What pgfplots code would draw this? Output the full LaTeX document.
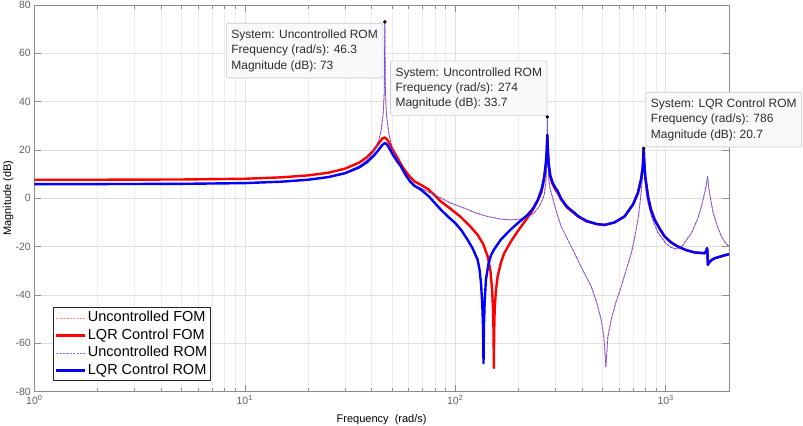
\documentclass[border=0pt]{standalone}
\usepackage{fontspec}
\setmainfont{Liberation Sans}
\usepackage{pgfplots}
\usepackage{pgfplotstable}
\pgfplotsset{compat=1.18}
\definecolor{redsolid}{RGB}{255,0,0}
\definecolor{bluesolid}{RGB}{0,0,255}
\definecolor{reddash}{RGB}{255,110,110}
\definecolor{bluedash}{RGB}{80,80,255}
\definecolor{reddashlight}{RGB}{255,140,140}
\definecolor{bluedashlight}{RGB}{120,120,255}
\definecolor{tipfill}{RGB}{249,249,252}
\definecolor{tipdraw}{RGB}{200,200,206}
\definecolor{tiptext}{RGB}{45,45,45}

\pgfplotstableread{
f db
1 6.0
2 6.05
5 6.1
10 6.4
15 6.9
20 7.8
25 9.0
30 10.7
35 13.4
38 15.7
40 17.9
42 21.0
43.5 24.6
44.5 28.3
45.5 35.3
46 43.8
46.3 73
46.6 43.7
47.2 34.1
48.5 26.2
50 21.6
52 17.7
55 13.7
58 10.2
61 7.6
65 5.0
68.7 4.2
76 2.3
85.5 0.1
95.4 -2.0
110 -4.0
125 -6.0
142.6 -7.5
165 -8.6
185 -8.9
205 -8.6
221 -7.6
237 -6.1
250 -3.5
260 -0.5
265 1.5
269 6
271.5 11
273 18
274 33.7
275 20
276.5 12
279 7
284 3
290 0.5
296 -2.5
305 -6.5
318.6 -11.6
340 -16.5
369 -22.7
400 -29
443 -36.5
470 -43
494 -50.3
508 -57
516 -65
520 -69.7
524 -65
532 -57
551 -50.3
580 -43
615 -36.5
650 -29.5
687 -22.7
715 -15.5
738 -8.9
755 -2
768 4
779 11.8
784 18
786 21
788 18
793 11
805 4
824 -1.9
860 -8
920 -14.3
1000 -18.5
1060 -20.3
1125 -21
1200 -19.7
1325 -14.4
1420 -8.5
1479 -3.3
1530 2
1560 5.5
1582 9.1
1605 4
1640 -1
1683 -6.1
1760 -11.5
1842 -15.8
1920 -18.3
2000 -20
}\uncontrolled

\pgfplotstableread{
f db
1 7.7
2 7.7
5 7.8
10 8.1
15 8.7
20 9.5
25 10.6
30 12.3
35 14.8
38 17.0
41 19.9
43 22.4
45 24.7
46.3 25.2
47.2 24.6
48 23.7
50 20.8
53 17.0
56 13.2
60 9.6
64 7.0
68.7 5.6
75 3.6
85.5 -1.3
95 -4.3
105.6 -7.5
117 -11.3
127.8 -15.1
136 -19
142.6 -24
147 -30
149.5 -37
151.3 -46
152.2 -56
152.6 -70.2
153.1 -56
154 -46
156 -38.5
159 -32.4
165 -26.5
171 -22.7
185 -17.5
198 -13.7
215 -9.3
229 -6.1
245 -1.5
256 2.2
264 7.5
269 13
272 18.5
274 25.5
276 18.5
278 14
283 9
290 6
300 3.5
307 2.3
318 -0.3
340 -3.8
369 -6.3
383 -7.5
420 -9.5
470 -10.7
512 -11
570 -10
638 -7.5
700 -2.5
738 2.2
765 8
779 13.2
783 17
786 20.5
790 16
800 9
824 0.8
850 -4.5
887 -8.9
940 -12.8
989 -15.8
1060 -18.2
1140 -19.9
1250 -21.4
1374 -22.4
1534 -22.7
1560 -21.8
1572 -20.6
1580 -22
1587 -27.5
1600 -26.8
1650 -25.6
1710 -24.8
1850 -23.9
2000 -23.1
}\lqrfom

\pgfplotstableread{
f db
1 5.9
2 5.9
5 6.0
10 6.3
15 6.9
20 7.7
25 8.8
30 10.4
35 12.8
38 14.9
41 17.6
43 19.8
45 22.0
46.3 22.9
47.5 22.2
49 20.2
51 17.5
53 15.3
55 13.4
58 9.8
61 7.0
64 5.2
68.7 3.6
75 0.8
85.5 -4.7
92 -7.4
100 -10.2
107 -13.2
114.6 -17.2
121 -20.7
127.8 -25.4
130.5 -29.5
132.6 -35
134.5 -44
135.6 -53
136.3 -68.2
136.9 -53
138 -43
140 -33.5
144 -27
148 -23.5
153.4 -21
165 -17
184 -12.8
200 -10
221 -6.8
235 -4
247 -0.6
258 4
265 9.1
270 15
272 19
274 26.3
276 19
278 14.5
283 9.5
290 6.5
300 4.2
307 3.0
318 0
340 -3.5
369 -6
383 -7.3
420 -9.3
470 -10.6
512 -11
570 -10
638 -7.5
700 -2.5
738 2.2
765 8
779 13.2
783 17
786 20.7
790 16
800 9
824 0.8
850 -4.5
887 -8.9
940 -12.8
989 -15.8
1060 -18.2
1140 -19.9
1250 -21.4
1374 -22.4
1534 -22.7
1560 -21.8
1572 -20.6
1580 -22
1587 -27.5
1600 -26.8
1650 -25.6
1710 -24.8
1850 -23.9
2000 -23.1
}\lqrrom

\begin{document}
\begin{tikzpicture}
\begin{axis}[
  scale only axis, width=694.7pt, height=386.7pt,
  xmode=log, xmin=1, xmax=2000, ymin=-80, ymax=80,
  xtick={1,10,100,1000},
  xticklabels={10\textsuperscript{0},10\textsuperscript{1},10\textsuperscript{2},10\textsuperscript{3}},
  minor xtick={2,3,4,5,6,7,8,9,20,30,40,50,60,70,80,90,200,300,400,500,600,700,800,900},
  ytick={-80,-60,-40,-20,0,20,40,60,80},
  yticklabels={-80,-60,-40,-20,0,20,40,60,80},
  grid=both,
  major grid style={draw=black!12, line width=0.5pt},
  minor grid style={draw=black!7, line width=0.5pt},
  tick align=inside, major tick length=7pt, minor tick length=4pt,
  axis line style={draw=black!45, line width=0.6pt},
  every tick/.style={draw=black!45, line width=0.5pt},
  ticklabel style={font=\fontsize{10.5}{12}\selectfont, text=black!62},
  xlabel={Frequency~~(rad/s)}, ylabel={Magnitude (dB)},
  label style={font=\fontsize{11}{13}\selectfont},
  xlabel style={at={(axis description cs:0.5,0)}, anchor=center, yshift=-27.5pt},
  ylabel style={at={(axis description cs:0,0.5)}, anchor=center, rotate=0, yshift=26pt},
  clip mode=individual,
  legend style={at={(0.0265,0.0277)}, anchor=south west, draw=black!85, line width=0.6pt,
    fill=white, font=\fontsize{14.5}{17}\selectfont, inner xsep=2pt, inner ysep=1.5pt,
    row sep=0pt,
    nodes={inner sep=1.5pt, text height=11pt, text depth=3.5pt}},
  legend cell align=left,
  legend image code/.code={\draw[#1] (0pt,0pt) -- (29pt,0pt);},
  every axis plot/.append style={line join=round},
]
\addlegendimage{color=reddashlight, line width=0.6pt, dash pattern=on 2.2pt off 1.2pt}
\addlegendentry{Uncontrolled FOM}
\addlegendimage{color=redsolid, line width=2.4pt}
\addlegendentry{LQR Control FOM}
\addlegendimage{color=bluedashlight, line width=0.6pt, dash pattern=on 2.2pt off 1.2pt}
\addlegendentry{Uncontrolled ROM}
\addlegendimage{color=bluesolid, line width=2.4pt}
\addlegendentry{LQR Control ROM}

\addplot[forget plot, color=reddash, line width=0.75pt, dash pattern=on 3pt off 1.2pt, dash phase=2.6pt] table[x=f,y=db] {\uncontrolled};
\addplot[forget plot, color=redsolid, line width=2.4pt] table[x=f,y=db] {\lqrfom};
\addplot[forget plot, color=bluedash, line width=0.75pt, dash pattern=on 3pt off 1.2pt] table[x=f,y=db] {\uncontrolled};
\addplot[forget plot, color=bluesolid, line width=2.4pt] table[x=f,y=db] {\lqrrom};
\addplot[only marks, mark=*, mark size=1.6pt, color=black, forget plot] coordinates {(46.3,73) (274,33.7) (786,20.7)};

\tikzset{tip/.style={fill=tipfill, draw=tipdraw, line width=0.6pt, rounded corners=2pt,
  text=tiptext, font=\fontsize{12}{15.3}\selectfont, align=left, inner xsep=5pt, inner ysep=6.5pt}}
\node[tip, anchor=north east, xshift=-1.7pt, yshift=-1pt] at (axis cs:46.3,73)
  {System: Uncontrolled ROM\\Frequency (rad/s): 46.3\\Magnitude (dB): 73};
\node[tip, anchor=south east, xshift=0pt, yshift=1pt] at (axis cs:274,33.7)
  {System: Uncontrolled ROM\\Frequency (rad/s): 274\\Magnitude (dB): 33.7};
\node[tip, anchor=south west, xshift=2pt, yshift=1pt] at (axis cs:786,20.7)
  {System: LQR Control ROM\\Frequency (rad/s): 786\\Magnitude (dB): 20.7};
\end{axis}
\pgfresetboundingbox
\path ([xshift=-34.3pt,yshift=-34.3pt]current axis.south west) rectangle ([xshift=74pt,yshift=5pt]current axis.north east);
\end{tikzpicture}
\end{document}
